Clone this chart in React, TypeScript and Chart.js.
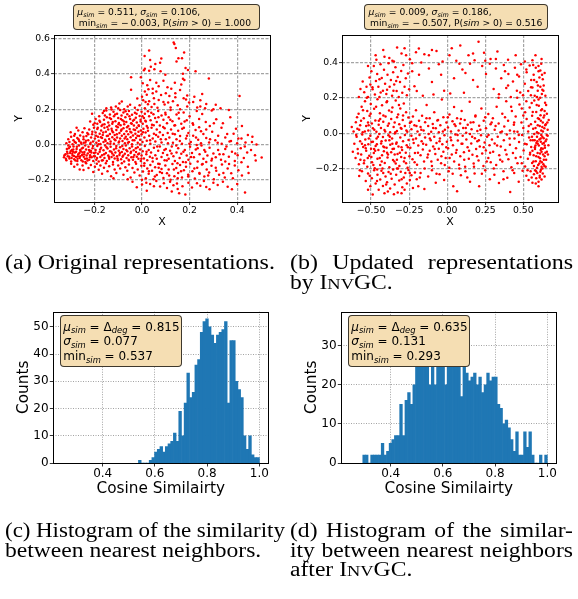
import React, { useEffect, useRef } from "react";
import { Chart, registerables } from "chart.js";
Chart.register(...registerables);

const W = 578;
const H = 599;
const FONT = "'DejaVu Sans', sans-serif";
const SERIF = "'Liberation Serif', 'Times New Roman', serif";

// ---------- (a) original representations : [x, y] ----------
const scatterOriginal: [number, number][] = [
  [0.133,0.576],[0.136,0.568],[0.030,0.531],[0.142,0.545],[0.177,0.520],[0.011,0.500],[0.034,0.478],[0.081,0.486],[0.076,0.462],[0.153,0.488],[0.168,0.488],[0.012,0.428],[0.008,0.420],[0.030,0.417],[0.037,0.440],[0.078,0.414],[0.193,0.422],[0.225,0.414],[0.172,0.400],[0.183,0.432],[0.145,0.470],[0.056,0.455],[0.052,0.425],
  [-0.046,0.380],[-0.046,0.310],[0.172,0.372],[0.178,0.365],[0.281,0.373],[0.090,0.360],[0.034,0.365],[0.003,0.346],[0.045,0.316],[0.027,0.312],[0.060,0.300],[0.107,0.324],[0.123,0.316],[0.160,0.309],[0.253,0.286],[0.410,0.275],[0.220,0.270],[0.175,0.262],[0.185,0.255],[-0.085,0.243],[-0.020,0.260],[0.005,0.250],[0.015,0.240],[0.030,0.245],[0.052,0.230],[0.070,0.252],[0.095,0.226],[0.110,0.238],[0.140,0.268],[0.150,0.222],[0.198,0.238],[0.232,0.210],[0.270,0.230],[0.300,0.200],[0.265,0.205],[0.012,0.205],[0.040,0.212],[-0.010,0.222],[-0.030,0.208],[-0.060,0.215],[-0.100,0.205],[-0.130,0.210],[-0.095,0.232],[0.080,0.280],[0.045,0.290],[0.100,0.290],[0.130,0.245],[0.160,0.200],[0.190,0.215],[0.215,0.240],[0.120,0.210],[0.065,0.208],[0.020,0.282],[0.012,0.300],[0.165,0.340],[0.138,0.350],[0.098,0.395],[0.060,0.350],[0.245,0.215],[0.330,0.205],[0.365,0.195],[-0.005,0.380],[0.022,0.335],
  [-0.218,0.130],[-0.205,0.112],[-0.195,0.145],[-0.188,0.118],[-0.180,0.160],[-0.176,0.128],[-0.170,0.105],[-0.165,0.178],[-0.160,0.140],[-0.158,0.115],[-0.150,0.192],[-0.148,0.155],[-0.142,0.125],[-0.138,0.108],[-0.135,0.170],[-0.130,0.145],[-0.125,0.118],[-0.120,0.185],[-0.118,0.160],[-0.112,0.132],[-0.108,0.104],[-0.105,0.175],[-0.100,0.150],[-0.097,0.122],[-0.092,0.195],[-0.090,0.110],[-0.086,0.165],[-0.082,0.138],[-0.078,0.182],[-0.075,0.115],[-0.070,0.155],[-0.066,0.128],[-0.062,0.172],[-0.058,0.105],[-0.055,0.190],[-0.050,0.145],[-0.046,0.120],[-0.042,0.168],[-0.038,0.135],[-0.034,0.108],[-0.030,0.180],[-0.026,0.152],[-0.022,0.125],[-0.018,0.195],[-0.014,0.110],[-0.010,0.162],[-0.006,0.140],[-0.002,0.185],[0.003,0.118],[0.008,0.150],[0.012,0.175],[0.016,0.130],[0.020,0.105],[0.025,0.188],[0.030,0.160],[0.036,0.138],[0.042,0.112],[0.048,0.172],[0.055,0.150],[0.062,0.128],[0.068,0.190],[0.075,0.108],[0.082,0.165],[0.090,0.140],[0.098,0.180],[0.105,0.120],[0.112,0.155],[0.120,0.195],[0.128,0.132],[0.136,0.108],[0.145,0.170],[0.155,0.148],[0.165,0.118],[0.175,0.182],[0.188,0.138],[0.200,0.160],[0.215,0.112],[0.230,0.190],[0.253,0.173],[0.293,0.192],[0.371,0.154],[0.312,0.143],[0.268,0.128],[0.240,0.145],[0.340,0.120],[0.420,0.105],[0.285,0.105],[-0.210,0.175],[-0.128,0.198],[-0.075,0.200],[0.002,0.160],[-0.160,0.190],
  [-0.318,0.008],[-0.310,0.030],[-0.305,0.015],[-0.298,0.045],[-0.292,0.002],[-0.288,0.025],[-0.282,0.060],[-0.278,0.010],[-0.272,0.038],[-0.268,0.080],[-0.264,0.020],[-0.260,0.052],[-0.255,0.005],[-0.250,0.070],[-0.246,0.030],[-0.242,0.092],[-0.238,0.012],[-0.234,0.048],[-0.230,0.065],[-0.226,0.025],[-0.222,0.085],[-0.218,0.004],[-0.214,0.040],[-0.210,0.058],[-0.206,0.018],[-0.202,0.095],[-0.300,0.070],[-0.275,0.095],[-0.285,0.050],[-0.245,0.010],
  [-0.198,0.035],[-0.195,0.068],[-0.192,0.010],[-0.188,0.088],[-0.185,0.045],[-0.182,0.022],[-0.178,0.062],[-0.175,0.003],[-0.172,0.080],[-0.168,0.038],[-0.165,0.055],[-0.162,0.015],[-0.158,0.095],[-0.155,0.028],[-0.152,0.072],[-0.148,0.048],[-0.145,0.008],[-0.142,0.085],[-0.138,0.032],[-0.135,0.060],[-0.132,0.018],[-0.128,0.090],[-0.125,0.042],[-0.122,0.070],[-0.118,0.005],[-0.115,0.055],[-0.112,0.025],[-0.108,0.082],[-0.105,0.040],[-0.102,0.098],[-0.098,0.012],[-0.095,0.065],[-0.092,0.035],[-0.088,0.078],[-0.085,0.050],[-0.082,0.020],[-0.078,0.092],[-0.075,0.060],[-0.072,0.008],[-0.068,0.045],[-0.065,0.075],[-0.062,0.030],[-0.058,0.058],[-0.055,0.015],[-0.052,0.088],[-0.048,0.042],[-0.045,0.068],[-0.042,0.002],[-0.038,0.052],[-0.035,0.085],[-0.032,0.025],[-0.028,0.062],[-0.025,0.038],[-0.022,0.095],[-0.018,0.010],[-0.015,0.072],[-0.012,0.048],[-0.008,0.028],[-0.005,0.080],[-0.002,0.058],[0.002,0.015],[0.006,0.090],[0.010,0.040],[0.015,0.068],[0.020,0.022],[0.025,0.078],[0.030,0.050],[0.035,0.005],[0.040,0.095],[0.045,0.035],[0.050,0.062],[0.056,0.018],[0.062,0.085],[0.068,0.045],[0.075,0.070],[0.082,0.012],[0.088,0.055],[0.095,0.092],[0.100,0.030],
  [0.108,0.065],[0.115,0.040],[0.122,0.085],[0.130,0.010],[0.138,0.058],[0.145,0.030],[0.152,0.078],[0.160,0.048],[0.168,0.005],[0.176,0.095],[0.185,0.035],[0.195,0.065],[0.205,0.015],[0.215,0.050],[0.225,0.082],[0.236,0.028],[0.248,0.008],[0.258,0.060],[0.270,0.038],[0.282,0.012],[0.295,0.072],[0.308,0.025],[0.320,0.050],[0.335,0.005],[0.350,0.040],[0.368,0.018],[0.385,0.062],[0.400,0.008],[0.418,0.034],[0.435,0.012],[0.464,0.045],[0.481,0.000],[0.445,0.055],[0.395,0.090],[0.240,0.098],
  [-0.328,-0.072],[-0.322,-0.055],[-0.318,-0.088],[-0.315,-0.040],[-0.312,-0.065],[-0.308,-0.020],[-0.305,-0.078],[-0.302,-0.048],[-0.298,-0.095],[-0.295,-0.030],[-0.292,-0.062],[-0.288,-0.010],[-0.285,-0.082],[-0.282,-0.045],[-0.278,-0.070],[-0.275,-0.025],[-0.272,-0.092],[-0.268,-0.055],[-0.265,-0.005],[-0.262,-0.075],[-0.258,-0.038],[-0.255,-0.088],[-0.252,-0.058],[-0.248,-0.018],[-0.245,-0.068],[-0.242,-0.042],[-0.238,-0.098],[-0.235,-0.028],[-0.232,-0.078],[-0.228,-0.050],[-0.225,-0.012],[-0.222,-0.085],[-0.218,-0.060],[-0.215,-0.035],[-0.212,-0.072],[-0.208,-0.020],[-0.205,-0.092],[-0.202,-0.048],[-0.290,-0.040],[-0.260,-0.030],[-0.240,-0.080],[-0.220,-0.040],[-0.270,-0.065],[-0.250,-0.045],[-0.310,-0.005],
  [-0.198,-0.065],[-0.195,-0.030],[-0.192,-0.085],[-0.188,-0.008],[-0.185,-0.052],[-0.182,-0.095],[-0.178,-0.040],[-0.175,-0.070],[-0.172,-0.018],[-0.168,-0.060],[-0.165,-0.088],[-0.162,-0.032],[-0.158,-0.075],[-0.155,-0.005],[-0.152,-0.048],[-0.148,-0.092],[-0.145,-0.022],[-0.142,-0.062],[-0.138,-0.080],[-0.135,-0.038],[-0.132,-0.012],[-0.128,-0.070],[-0.125,-0.050],[-0.122,-0.098],[-0.118,-0.028],[-0.115,-0.078],[-0.112,-0.045],[-0.108,-0.008],[-0.105,-0.065],[-0.102,-0.088],[-0.098,-0.035],[-0.095,-0.058],[-0.092,-0.015],[-0.088,-0.082],[-0.085,-0.042],[-0.082,-0.068],[-0.078,-0.025],[-0.075,-0.095],[-0.072,-0.052],[-0.068,-0.005],[-0.065,-0.075],[-0.062,-0.038],[-0.058,-0.060],[-0.055,-0.090],[-0.052,-0.020],[-0.048,-0.048],[-0.045,-0.072],[-0.042,-0.010],[-0.038,-0.085],[-0.035,-0.032],[-0.032,-0.058],[-0.028,-0.098],[-0.025,-0.042],[-0.022,-0.068],[-0.018,-0.015],[-0.015,-0.080],[-0.012,-0.050],[-0.008,-0.028],[-0.005,-0.092],[-0.002,-0.062],[0.003,-0.038],[0.008,-0.078],[0.012,-0.008],[0.018,-0.055],[0.022,-0.088],[0.028,-0.030],[0.033,-0.068],[0.038,-0.045],[0.045,-0.095],[0.050,-0.018],[0.056,-0.060],[0.062,-0.080],[0.068,-0.035],[0.075,-0.010],[0.082,-0.070],[0.088,-0.048],[0.095,-0.088],[0.100,-0.025],
  [0.106,-0.058],[0.112,-0.080],[0.118,-0.035],[0.125,-0.010],[0.132,-0.065],[0.138,-0.092],[0.145,-0.045],[0.152,-0.020],[0.158,-0.075],[0.165,-0.052],[0.172,-0.098],[0.180,-0.030],[0.188,-0.062],[0.195,-0.085],[0.202,-0.012],[0.210,-0.048],[0.218,-0.072],[0.226,-0.028],[0.234,-0.095],[0.242,-0.055],[0.250,-0.005],[0.258,-0.080],[0.266,-0.040],[0.275,-0.062],[0.284,-0.018],[0.292,-0.090],[0.300,-0.050],[0.310,-0.072],[0.320,-0.030],[0.332,-0.085],[0.342,-0.055],[0.355,-0.010],[0.365,-0.068],[0.378,-0.040],[0.390,-0.092],[0.402,-0.060],[0.415,-0.020],[0.428,-0.075],[0.442,-0.045],[0.458,-0.030],[0.475,-0.060],[0.503,-0.073],[0.350,-0.095],[0.270,-0.098],[0.230,-0.002],
  [-0.298,-0.108],[-0.285,-0.125],[-0.272,-0.112],[-0.262,-0.140],[-0.250,-0.118],[-0.246,-0.143],[-0.235,-0.105],[-0.225,-0.132],[-0.215,-0.115],[-0.205,-0.155],[-0.198,-0.125],[-0.190,-0.108],[-0.182,-0.142],[-0.175,-0.118],[-0.168,-0.165],[-0.160,-0.130],[-0.152,-0.105],[-0.145,-0.150],[-0.138,-0.122],[-0.130,-0.178],[-0.122,-0.112],[-0.115,-0.140],[-0.108,-0.160],[-0.100,-0.118],[-0.092,-0.135],[-0.085,-0.105],[-0.078,-0.170],[-0.070,-0.128],[-0.062,-0.148],[-0.055,-0.112],[-0.048,-0.185],[-0.040,-0.132],[-0.032,-0.158],[-0.025,-0.108],[-0.018,-0.140],[-0.010,-0.175],[-0.003,-0.120],[0.004,-0.152],[0.010,-0.105],[0.016,-0.190],[0.022,-0.135],[0.028,-0.165],[0.035,-0.115],[0.042,-0.148],[0.048,-0.195],[0.055,-0.128],[0.062,-0.172],[0.068,-0.108],[0.075,-0.155],[0.082,-0.138],[0.090,-0.188],[0.098,-0.118],[0.105,-0.162],[0.112,-0.140],[0.120,-0.198],[0.128,-0.110],[0.136,-0.178],[0.144,-0.132],[0.152,-0.160],[0.160,-0.115],[0.168,-0.185],[0.176,-0.145],[0.185,-0.125],[0.194,-0.170],[0.203,-0.108],[0.212,-0.150],[0.222,-0.192],[0.232,-0.130],[0.242,-0.165],[0.252,-0.112],[0.262,-0.180],[0.272,-0.140],[0.282,-0.158],[0.292,-0.120],[0.302,-0.195],[0.312,-0.148],[0.324,-0.170],[0.336,-0.112],[0.348,-0.185],[0.360,-0.135],[0.375,-0.162],[0.390,-0.118],[0.405,-0.145],[0.420,-0.175],[0.445,-0.125],[-0.120,-0.190],[-0.060,-0.195],[0.000,-0.198],[0.070,-0.130],[0.150,-0.190],
  [-0.040,-0.210],[-0.022,-0.241],[0.000,-0.225],[0.018,-0.215],[0.034,-0.222],[0.050,-0.235],[0.060,-0.205],[0.076,-0.237],[0.092,-0.218],[0.105,-0.245],[0.118,-0.210],[0.132,-0.230],[0.147,-0.220],[0.150,-0.250],[0.156,-0.275],[0.170,-0.235],[0.182,-0.281],[0.195,-0.215],[0.210,-0.242],[0.231,-0.218],[0.245,-0.232],[0.260,-0.205],[0.270,-0.240],[0.284,-0.252],[0.300,-0.215],[0.318,-0.228],[0.340,-0.210],[0.360,-0.238],[0.378,-0.252],[0.400,-0.222],[0.433,-0.271],[0.020,-0.260],[0.125,-0.265],
  [-0.326,-0.060],[-0.320,-0.080],[-0.316,-0.025],[-0.313,-0.050],[-0.306,-0.068],[-0.303,-0.012],[-0.300,-0.038],[-0.296,-0.075],[-0.293,-0.052],[-0.289,-0.028],[-0.286,-0.064],[-0.283,0.015],[-0.280,-0.090],[-0.277,-0.040],[-0.274,-0.012],[-0.271,-0.080],[-0.267,0.030],[-0.263,-0.048],[-0.260,-0.065],[-0.257,0.012],[-0.253,-0.022],[-0.249,-0.095],[-0.246,0.045],[-0.243,-0.055],[-0.239,-0.005],[-0.236,0.022],[-0.233,-0.062],[-0.229,-0.090],[-0.226,0.058],[-0.223,-0.030],[-0.219,-0.072],[-0.216,0.010],[-0.213,-0.045],[-0.209,0.072],[-0.206,-0.008],[-0.203,-0.065],
  [-0.199,0.120],[-0.196,-0.045],[-0.193,0.050],[-0.189,-0.075],[-0.186,0.095],[-0.183,0.002],[-0.179,0.135],[-0.176,-0.028],[-0.173,0.042],[-0.169,-0.090],[-0.166,0.112],[-0.163,0.068],[-0.159,-0.055],[-0.156,0.165],[-0.153,0.020],[-0.149,-0.015],[-0.146,0.100],[-0.143,0.050],[-0.139,-0.070],[-0.136,0.150],[-0.133,0.005],[-0.129,-0.040],[-0.126,0.078],[-0.123,0.128],[-0.119,-0.060],[-0.116,0.030],[-0.113,0.170],[-0.109,-0.020],[-0.106,0.058],[-0.103,-0.078],[-0.099,0.115],[-0.096,0.018],[-0.093,-0.048],[-0.089,0.145],[-0.086,0.085],[-0.083,-0.008],[-0.079,-0.062],[-0.076,0.130],[-0.073,0.035],[-0.069,0.188],[-0.066,-0.030],[-0.063,0.098],[-0.059,0.010],[-0.056,-0.085],[-0.053,0.160],[-0.049,0.072],[-0.046,-0.040],[-0.043,0.118],[-0.039,0.025],[-0.036,-0.070],[-0.033,0.140],[-0.029,0.082],[-0.026,-0.020],[-0.023,0.175],[-0.019,0.050],[-0.016,-0.055],[-0.013,0.105],[-0.009,0.000],[-0.006,0.130],[-0.003,-0.080],
  [0.004,0.070],[0.009,-0.120],[0.014,0.135],[0.019,-0.040],[0.024,0.095],[0.029,-0.150],[0.034,0.025],[0.039,0.180],[0.044,-0.075],[0.049,0.110],[0.054,-0.180],[0.059,0.055],[0.064,-0.010],[0.069,0.155],[0.074,-0.110],[0.079,0.030],[0.084,-0.160],[0.089,0.100],[0.094,-0.030],[0.099,0.170],[0.104,-0.090],[0.109,0.008],[0.114,-0.175],[0.119,0.140],[0.124,-0.050],[0.129,0.062],[0.134,-0.140],[0.139,0.110],[0.144,-0.005],[0.149,-0.105],[0.154,0.180],[0.159,0.020],[0.164,-0.150],[0.169,0.090],[0.174,-0.040],[0.179,0.130],[0.184,-0.100],[0.189,0.050],[0.194,-0.180],[0.199,0.005],[0.206,-0.070],[0.213,0.120],[0.220,-0.135],[0.227,0.040],[0.234,-0.020],[0.241,-0.160],[0.248,0.075],[0.255,-0.110],
  [0.262,-0.030],[0.270,0.085],[0.278,-0.175],[0.286,0.030],[0.294,-0.080],[0.302,0.120],[0.310,-0.130],[0.318,0.010],[0.326,-0.055],[0.334,0.095],[0.342,-0.160],[0.350,-0.025],[0.358,0.060],[0.366,-0.110],[0.374,0.020],[0.382,-0.190],[0.392,-0.050],[0.405,0.035],[0.418,-0.100],[0.432,-0.010],[0.448,-0.160],[0.462,0.015],[0.478,-0.090],
  [-0.150,0.205],[-0.110,0.215],[-0.050,0.225],[0.000,0.270],[0.050,0.262],[0.090,0.240],[0.140,0.290],[0.190,0.278],[0.245,0.250],[0.310,0.225],[0.070,0.330],[0.115,0.275],[0.025,0.228],
];

// ---------- (b) updated representations : [x, y] ----------
const scatterUpdated: [number, number][] = [
  [-0.329,0.485],[-0.186,0.479],[0.086,0.496],[0.206,0.517],[-0.070,0.464],[-0.412,0.432],[-0.300,0.450],[-0.270,0.440],[-0.205,0.458],[-0.150,0.446],[-0.465,0.415],[-0.380,0.425],[-0.120,0.440],[-0.030,0.405],[0.015,0.440],[0.060,0.410],[0.140,0.440],[0.242,0.455],[0.330,0.462],[0.285,0.420],[0.400,0.415],[0.560,0.412],[0.510,0.405],[-0.245,0.418],[-0.350,0.405],[0.180,0.412],
  [-0.555,0.292],[-0.545,0.232],[-0.530,0.262],[-0.520,0.205],[-0.510,0.315],[-0.498,0.350],[-0.490,0.248],[-0.482,0.380],[-0.475,0.218],[-0.468,0.295],[-0.460,0.335],[-0.452,0.262],[-0.445,0.205],[-0.438,0.390],[-0.430,0.312],[-0.422,0.240],[-0.415,0.358],[-0.408,0.280],[-0.400,0.222],[-0.392,0.330],[-0.385,0.395],[-0.378,0.262],[-0.370,0.300],[-0.362,0.212],[-0.355,0.345],[-0.348,0.275],[-0.340,0.372],[-0.332,0.238],[-0.325,0.318],[-0.318,0.205],[-0.310,0.290],[-0.302,0.352],[-0.295,0.228],[-0.288,0.385],[-0.280,0.262],[-0.272,0.310],[-0.265,0.215],[-0.258,0.338],[-0.250,0.248],[-0.580,0.205],[-0.570,0.250],[-0.505,0.275],[-0.445,0.305],[-0.395,0.245],[-0.335,0.295],
  [-0.230,0.395],[-0.215,0.265],[-0.200,0.238],[-0.185,0.330],[-0.160,0.212],[-0.120,0.365],[-0.090,0.218],[-0.055,0.390],[-0.020,0.240],[0.020,0.225],[0.045,0.310],[0.080,0.392],[0.110,0.228],[0.150,0.392],[0.170,0.300],[0.200,0.262],[0.230,0.380],[0.255,0.335],[0.280,0.392],[0.120,0.340],[-0.100,0.290],
  [0.305,0.250],[0.320,0.365],[0.340,0.220],[0.355,0.310],[0.372,0.385],[0.388,0.255],[0.402,0.335],[0.418,0.205],[0.432,0.292],[0.445,0.370],[0.458,0.240],[0.472,0.320],[0.485,0.390],[0.498,0.215],[0.510,0.280],[0.522,0.345],[0.532,0.238],[0.542,0.382],[0.552,0.300],[0.560,0.258],[0.568,0.330],[0.575,0.212],[0.582,0.370],[0.588,0.290],[0.595,0.240],[0.600,0.350],[0.606,0.315],[0.612,0.262],[0.618,0.392],[0.622,0.222],[0.628,0.305],[0.634,0.270],[0.640,0.340],[0.645,0.212],[0.590,0.205],[0.565,0.385],[0.612,0.355],[0.625,0.245],[0.550,0.215],[0.460,0.200],
  [-0.627,0.035],[-0.615,0.010],[-0.600,0.062],[-0.590,0.025],[-0.582,0.110],[-0.572,0.045],[-0.562,0.150],[-0.555,0.005],[-0.548,0.085],[-0.540,0.180],[-0.532,0.040],[-0.525,0.125],[-0.518,0.015],[-0.510,0.098],[-0.502,0.165],[-0.495,0.055],[-0.488,0.028],[-0.480,0.138],[-0.472,0.072],[-0.465,0.008],[-0.458,0.192],[-0.450,0.048],[-0.442,0.112],[-0.435,0.030],[-0.428,0.158],[-0.420,0.065],[-0.412,0.018],[-0.405,0.095],[-0.398,0.175],[-0.390,0.042],[-0.382,0.128],[-0.375,0.005],[-0.368,0.080],[-0.360,0.145],[-0.352,0.035],[-0.345,0.060],[-0.338,0.185],[-0.330,0.012],[-0.322,0.105],[-0.315,0.050],[-0.308,0.140],[-0.300,0.025],[-0.292,0.075],[-0.285,0.168],[-0.278,0.040],[-0.270,0.118],[-0.262,0.008],[-0.255,0.088],[-0.520,0.060],[-0.440,0.080],
  [-0.245,0.058],[-0.235,0.022],[-0.225,0.095],[-0.215,0.045],[-0.205,0.130],[-0.195,0.010],[-0.185,0.070],[-0.175,0.035],[-0.165,0.098],[-0.155,0.015],[-0.145,0.062],[-0.135,0.160],[-0.125,0.040],[-0.115,0.085],[-0.105,0.008],[-0.095,0.052],[-0.085,0.118],[-0.075,0.028],[-0.065,0.072],[-0.055,0.005],[-0.045,0.045],[-0.035,0.190],[-0.025,0.090],[-0.015,0.020],[-0.005,0.060],[0.005,0.032],[0.015,0.105],[0.025,0.010],[0.035,0.068],[0.045,0.148],[0.055,0.040],[0.065,0.085],[0.075,0.015],[0.085,0.055],[0.095,0.125],[0.105,0.030],[0.115,0.075],[0.125,0.002],[0.135,0.048],[0.148,0.178],[0.160,0.022],[0.172,0.062],[0.185,0.095],[0.198,0.012],[0.210,0.042],[0.225,0.140],[0.240,0.070],[0.255,0.028],[0.270,0.108],[0.285,0.050],
  [0.300,0.085],[0.312,0.020],[0.325,0.150],[0.338,0.055],[0.350,0.005],[0.362,0.110],[0.375,0.038],[0.388,0.180],[0.400,0.070],[0.412,0.015],[0.425,0.125],[0.438,0.048],[0.450,0.095],[0.462,0.008],[0.475,0.162],[0.488,0.060],[0.500,0.030],[0.512,0.118],[0.522,0.080],[0.532,0.010],[0.542,0.145],[0.550,0.050],[0.558,0.098],[0.565,0.025],[0.572,0.185],[0.578,0.065],[0.585,0.120],[0.590,0.005],[0.596,0.085],[0.602,0.155],[0.608,0.040],[0.613,0.102],[0.618,0.015],[0.623,0.135],[0.628,0.060],[0.633,0.088],[0.638,0.028],[0.643,0.172],[0.648,0.050],[0.655,0.110],[0.660,0.020],[0.667,0.075],[0.600,0.190],[0.615,0.070],[0.625,0.035],[0.595,0.045],[0.640,0.125],[0.555,0.170],[0.490,0.140],[0.440,0.010],
  [-0.620,-0.105],[-0.610,-0.060],[-0.602,-0.140],[-0.595,-0.020],[-0.588,-0.090],[-0.580,-0.175],[-0.572,-0.045],[-0.565,-0.120],[-0.558,-0.008],[-0.552,-0.078],[-0.545,-0.155],[-0.538,-0.035],[-0.532,-0.100],[-0.525,-0.190],[-0.518,-0.062],[-0.512,-0.128],[-0.505,-0.015],[-0.500,-0.088],[-0.494,-0.165],[-0.488,-0.048],[-0.482,-0.112],[-0.476,-0.198],[-0.470,-0.072],[-0.464,-0.030],[-0.458,-0.145],[-0.452,-0.095],[-0.446,-0.005],[-0.440,-0.180],[-0.434,-0.058],[-0.428,-0.125],[-0.422,-0.022],[-0.416,-0.102],[-0.410,-0.168],[-0.404,-0.042],[-0.398,-0.082],[-0.392,-0.138],[-0.386,-0.012],[-0.380,-0.192],[-0.374,-0.065],[-0.368,-0.108],[-0.362,-0.030],[-0.356,-0.152],[-0.350,-0.088],[-0.344,-0.002],[-0.338,-0.172],[-0.332,-0.052],[-0.326,-0.118],[-0.320,-0.075],[-0.314,-0.185],[-0.308,-0.025],[-0.302,-0.135],[-0.296,-0.095],[-0.290,-0.045],[-0.284,-0.160],[-0.278,-0.010],[-0.272,-0.110],[-0.266,-0.068],[-0.260,-0.195],[-0.254,-0.038],[-0.248,-0.130],[-0.498,-0.135],[-0.462,-0.062],[-0.430,-0.160],[-0.395,-0.110],[-0.360,-0.060],[-0.330,-0.150],[-0.300,-0.080],[-0.270,-0.170],[-0.540,-0.068],[-0.570,-0.150],[-0.515,-0.030],[-0.480,-0.090],[-0.345,-0.120],[-0.420,-0.075],[-0.380,-0.040],
  [-0.242,-0.082],[-0.235,-0.015],[-0.228,-0.148],[-0.220,-0.055],[-0.212,-0.112],[-0.205,-0.030],[-0.198,-0.178],[-0.190,-0.070],[-0.182,-0.010],[-0.175,-0.125],[-0.168,-0.045],[-0.160,-0.092],[-0.152,-0.160],[-0.145,-0.025],[-0.138,-0.065],[-0.130,-0.138],[-0.122,-0.005],[-0.115,-0.100],[-0.108,-0.040],[-0.100,-0.185],[-0.092,-0.075],[-0.085,-0.020],[-0.078,-0.118],[-0.070,-0.055],[-0.062,-0.150],[-0.055,-0.088],[-0.048,-0.030],[-0.040,-0.170],[-0.032,-0.062],[-0.025,-0.105],[-0.018,-0.012],[-0.010,-0.140],[-0.002,-0.048],[0.006,-0.085],[0.014,-0.195],[0.022,-0.025],[0.030,-0.120],[0.038,-0.068],[0.046,-0.160],[0.054,-0.008],[0.062,-0.095],[0.070,-0.042],[0.078,-0.178],[0.086,-0.130],[0.094,-0.060],[0.102,-0.015],[0.110,-0.108],[0.118,-0.190],[0.126,-0.035],[0.134,-0.080],[0.142,-0.145],[0.150,-0.005],[0.158,-0.058],[0.166,-0.122],[0.174,-0.172],[0.182,-0.028],[0.190,-0.090],[0.198,-0.045],[0.206,-0.155],[0.214,-0.075],[0.222,-0.012],[0.230,-0.115],[0.238,-0.185],[0.246,-0.052],[0.254,-0.098],[0.262,-0.020],[0.270,-0.140],[0.278,-0.068],[0.286,-0.165],[0.294,-0.035],
  [0.302,-0.105],[0.312,-0.058],[0.322,-0.180],[0.332,-0.020],[0.342,-0.125],[0.352,-0.075],[0.362,-0.160],[0.372,-0.040],[0.382,-0.095],[0.392,-0.008],[0.402,-0.148],[0.412,-0.065],[0.422,-0.192],[0.432,-0.112],[0.442,-0.030],[0.452,-0.085],[0.462,-0.170],[0.472,-0.050],[0.482,-0.135],[0.492,-0.010],[0.502,-0.098],[0.512,-0.188],[0.522,-0.062],[0.530,-0.145],[0.538,-0.025],[0.545,-0.110],[0.552,-0.078],[0.558,-0.168],[0.563,-0.040],[0.568,-0.125],[0.572,-0.005],[0.577,-0.090],[0.582,-0.158],[0.586,-0.055],[0.590,-0.020],[0.594,-0.112],[0.598,-0.180],[0.602,-0.070],[0.606,-0.035],[0.610,-0.142],[0.614,-0.095],[0.618,-0.010],[0.622,-0.165],[0.626,-0.060],[0.630,-0.120],[0.634,-0.028],[0.638,-0.185],[0.642,-0.082],[0.646,-0.045],[0.650,-0.150],[0.655,-0.105],[0.660,-0.015],[0.665,-0.068],[0.590,-0.195],[0.605,-0.172],[0.620,-0.190],[0.615,-0.048],[0.628,-0.088],[0.640,-0.130],[0.600,-0.000],[0.585,-0.130],[0.575,-0.040],[0.560,-0.100],[0.612,-0.158],[0.632,-0.175],[0.548,-0.040],[0.595,-0.060],[0.625,-0.020],[0.645,-0.110],[0.610,-0.115],[0.580,-0.070],[0.570,-0.185],[0.635,-0.055],[0.652,-0.035],[0.618,-0.085],
  [-0.578,-0.242],[-0.560,-0.215],[-0.535,-0.270],[-0.520,-0.228],[-0.505,-0.300],[-0.495,-0.255],[-0.489,-0.347],[-0.480,-0.210],[-0.470,-0.285],[-0.458,-0.235],[-0.450,-0.320],[-0.440,-0.262],[-0.432,-0.212],[-0.422,-0.298],[-0.412,-0.340],[-0.405,-0.245],[-0.395,-0.278],[-0.385,-0.220],[-0.375,-0.312],[-0.365,-0.258],[-0.355,-0.205],[-0.345,-0.290],[-0.335,-0.235],[-0.325,-0.335],[-0.315,-0.268],[-0.305,-0.218],[-0.295,-0.305],[-0.285,-0.250],[-0.275,-0.225],[-0.265,-0.285],[-0.255,-0.208],[-0.245,-0.265],[-0.235,-0.238],[-0.225,-0.310],[-0.212,-0.222],[-0.200,-0.260],[-0.190,-0.300],[-0.460,-0.205],[-0.390,-0.330],[-0.350,-0.345],[-0.300,-0.340],[-0.420,-0.225],[-0.520,-0.320],[-0.280,-0.320],[-0.330,-0.200],
  [-0.175,-0.225],[-0.150,-0.315],[-0.125,-0.245],[-0.100,-0.210],[-0.075,-0.280],[-0.050,-0.232],[-0.020,-0.265],[0.010,-0.215],[0.040,-0.300],[0.065,-0.328],[0.090,-0.238],[0.120,-0.215],[0.150,-0.275],[0.180,-0.228],[0.210,-0.300],[0.250,-0.210],[0.280,-0.260],[0.310,-0.235],[0.340,-0.282],[0.370,-0.215],[0.395,-0.252],[0.414,-0.332],[0.440,-0.225],[0.470,-0.275],[0.495,-0.212],
  [0.520,-0.240],[0.535,-0.265],[0.548,-0.215],[0.560,-0.280],[0.570,-0.232],[0.578,-0.210],[0.585,-0.255],[0.592,-0.225],[0.600,-0.275],[0.608,-0.240],[0.615,-0.208],[0.620,-0.262],[0.628,-0.228],[0.600,-0.300],[0.582,-0.285],[0.555,-0.250],[0.612,-0.218],[0.640,-0.245],
  [-0.598,-0.010],[-0.592,0.090],[-0.586,-0.115],[-0.578,0.020],[-0.574,-0.210],[-0.566,0.070],[-0.560,-0.060],[-0.553,0.130],[-0.547,-0.170],[-0.541,0.010],[-0.535,-0.085],[-0.528,0.200],[-0.522,-0.140],[-0.516,0.045],[-0.509,-0.240],[-0.503,0.110],[-0.497,-0.050],[-0.491,0.260],[-0.485,-0.180],[-0.479,0.020],[-0.473,-0.100],[-0.467,0.150],[-0.461,-0.270],[-0.455,-0.020],[-0.449,0.070],[-0.443,-0.140],[-0.437,0.230],[-0.431,-0.045],[-0.425,-0.200],[-0.419,0.100],[-0.413,-0.080],[-0.407,0.010],[-0.401,-0.290],[-0.395,0.180],[-0.389,-0.120],[-0.383,0.055],[-0.377,-0.020],[-0.371,-0.230],[-0.365,0.120],[-0.359,-0.090],[-0.353,0.240],[-0.347,-0.160],[-0.341,0.005],[-0.335,-0.060],[-0.329,0.090],[-0.323,-0.200],[-0.317,0.160],[-0.311,-0.110],[-0.305,0.030],[-0.299,-0.260],
  [-0.290,0.100],[-0.280,-0.140],[-0.268,0.015],[-0.258,-0.080],[-0.246,-0.225],[-0.236,0.065],[-0.224,-0.035],[-0.214,-0.165],[-0.202,0.040],[-0.192,-0.110],[-0.180,-0.250],[-0.170,0.020],[-0.158,-0.060],[-0.148,-0.200],[-0.136,0.085],[-0.126,-0.120],[-0.114,-0.030],[-0.104,-0.160],[-0.092,0.030],[-0.082,-0.090],[-0.070,-0.230],[-0.060,0.075],[-0.050,-0.045],[-0.038,-0.130],[-0.028,0.010],[-0.016,-0.180],[-0.006,-0.080],[0.004,0.090],[0.016,-0.140],[0.026,-0.040],[0.036,-0.230],[0.048,0.050],[0.058,-0.110],[0.068,-0.010],[0.080,-0.200],[0.090,0.080],[0.100,-0.060],[0.112,-0.150],[0.122,0.030],[0.132,-0.250],[0.144,-0.100],[0.154,0.060],[0.164,-0.020],[0.176,-0.190],[0.186,0.100],[0.196,-0.130],[0.208,-0.040],[0.218,0.020],[0.228,-0.230],[0.240,-0.080],[0.250,0.090],[0.260,-0.160],[0.272,-0.010],[0.282,-0.110],[0.292,0.060],
  [0.306,-0.200],[0.318,0.040],[0.328,-0.070],[0.338,0.200],[0.348,-0.150],[0.360,0.010],[0.370,-0.260],[0.380,0.090],[0.390,-0.120],[0.400,0.270],[0.410,-0.030],[0.420,0.150],[0.430,-0.210],[0.440,0.060],[0.450,-0.140],[0.460,0.330],[0.470,-0.010],[0.480,0.230],[0.490,-0.170],[0.500,0.100],[0.510,-0.060],[0.520,0.180],[0.528,-0.210],[0.536,0.040],[0.544,-0.120],[0.551,0.260],[0.557,-0.020],[0.562,0.120],[0.567,-0.160],[0.571,0.300],[0.576,-0.080],[0.580,0.030],[0.584,-0.215],[0.588,0.160],[0.592,-0.045],[0.596,0.270],[0.600,-0.135],[0.604,0.080],[0.608,-0.250],[0.611,0.200],[0.614,-0.030],[0.617,0.130],[0.620,-0.105],[0.623,0.330],[0.626,-0.200],[0.629,0.010],[0.632,0.240],[0.635,-0.150],[0.638,0.100],[0.641,-0.070],[0.644,0.045],[0.647,-0.190],[0.650,0.160],[0.654,-0.010],[0.658,0.060],[0.662,-0.120],
  [-0.520,0.380],[-0.470,0.440],[-0.420,0.470],[-0.360,0.410],[-0.280,0.480],[-0.230,0.350],[-0.170,0.400],[-0.100,0.470],[-0.040,0.330],[0.030,0.480],[0.100,0.360],[0.170,0.450],[0.250,0.410],[0.320,0.420],[0.380,0.350],[0.450,0.440],[0.520,0.360],[0.580,0.440],[0.620,0.420],[0.600,0.380],
];

// ---------- (c) histogram of nearest-neighbour similarity ----------
const histOrigBins = [
  0.5421,0.5524,0.5627,0.5730,0.5833,0.5936,0.6039,0.6142,0.6245,0.6348,0.6451,0.6554,0.6657,0.6760,0.6863,
  0.6966,0.7069,0.7172,0.7275,0.7378,0.7481,0.7584,0.7687,0.7790,0.7893,0.7996,0.8099,0.8202,0.8305,0.8408,
  0.8511,0.8614,0.8717,0.8820,0.8923,0.9026,0.9129,0.9232,0.9335,0.9438,0.9541,0.9644,0.9747,0.9850,0.9953,
];
const histOrigCounts = [
  1,0,0,0,1,2,4,5,6,4,6,7,8,11,8,
  19,10,22,33,24,26,36,38,48,52,53,50,47,44,47,
  48,49,52,22,45,45,30,27,24,10,5,10,3,2,2,
];

// ---------- (d) histogram after InvGC ----------
const histInvBins = [
  0.2981,0.3082,0.3183,0.3284,0.3385,0.3486,0.3587,0.3688,0.3789,0.3890,0.3991,0.4092,0.4193,0.4294,0.4395,
  0.4496,0.4597,0.4698,0.4799,0.4900,0.5001,0.5102,0.5203,0.5304,0.5405,0.5506,0.5607,0.5708,0.5809,0.5910,
  0.6011,0.6112,0.6213,0.6314,0.6415,0.6516,0.6617,0.6718,0.6819,0.6920,0.7021,0.7122,0.7223,0.7324,0.7425,
  0.7526,0.7627,0.7728,0.7829,0.7930,0.8031,0.8132,0.8233,0.8334,0.8435,0.8536,0.8637,0.8738,0.8839,0.8940,
  0.9041,0.9142,0.9243,0.9344,0.9445,0.9546,0.9647,0.9748,0.9849,0.9950,
];
const histInvCounts = [
  2,2,0,2,2,2,2,5,2,3,5,6,7,7,15,
  7,16,18,15,20,25,26,29,31,27,20,33,20,30,35,
  37,20,32,28,34,30,26,17,25,23,21,22,23,20,22,
  18,20,23,21,22,22,15,14,10,11,9,6,3,8,2,
  2,8,4,8,2,0,0,2,0,2,
];

// ---------- ticks ----------
const ticksOrigX = [-0.2, 0, 0.2, 0.4];
const labelsOrigX = ["\u22120.2", "0.0", "0.2", "0.4"];
const ticksOrigY = [-0.2, 0, 0.2, 0.4, 0.6];
const labelsOrigY = ["\u22120.2", "0.0", "0.2", "0.4", "0.6"];
const ticksUpdX = [-0.5, -0.25, 0, 0.25, 0.5];
const labelsUpdX = ["\u22120.50", "\u22120.25", "0.00", "0.25", "0.50"];
const ticksUpdY = [-0.2, 0, 0.2, 0.4];
const labelsUpdY = ["\u22120.2", "0.0", "0.2", "0.4"];
const ticksHistX = [0.4, 0.6, 0.8, 1.0];
const labelsHistX = ["0.4", "0.6", "0.8", "1.0"];
const ticksOrigHistY = [0, 10, 20, 30, 40, 50];
const ticksInvHistY = [0, 10, 20, 30];

const framePlugin = {
  id: "frame",
  afterDatasetsDraw(chart: any) {
    const { ctx, chartArea: a } = chart;
    ctx.save();
    ctx.strokeStyle = "#000";
    ctx.lineWidth = 1;
    ctx.strokeRect(Math.round(a.left) + 0.5, Math.round(a.top) + 0.5, Math.round(a.right - a.left), Math.round(a.bottom - a.top));
    ctx.restore();
  },
};

function axis(p: any) {
  return {
    type: "linear",
    min: p.min,
    max: p.max,
    offset: false,
    afterBuildTicks: (s: any) => {
      s.ticks = p.ticks.map((v: number) => ({ value: v }));
    },
    afterFit: (s: any) => {
      if (p.horizontal) s.height = p.size;
      else s.width = p.size;
    },
    ticks: {
      autoSkip: false,
      maxRotation: 0,
      minRotation: 0,
      padding: p.tickPad,
      color: "#000",
      font: { family: FONT, size: p.fontSize },
      callback: (_v: any, i: number) => p.labels[i],
    },
    grid: {
      offset: false,
      color: p.gridColor,
      lineWidth: p.gridWidth,
      drawTicks: true,
      tickLength: p.tickLength,
      tickColor: "#000",
      tickWidth: 0.8,
    },
    border: { display: false, dash: p.gridDash },
    title: {
      display: true,
      text: p.title,
      color: "#000",
      font: { family: FONT, size: p.titleSize },
      padding: p.horizontal ? { top: 0, bottom: p.titlePad } : { top: p.titlePad, bottom: 0 },
    },
  };
}

const SC_GRID = "rgba(90,90,90,0.55)";
const H_GRID = "rgba(110,110,110,0.8)";

function scatterConfig(points: [number, number][], area: any, xs: any, ys: any) {
  return {
    type: "scatter",
    data: {
      datasets: [
        {
          data: points.map(([x, y]) => ({ x, y })),
          backgroundColor: "#ff0000",
          borderWidth: 0,
          pointRadius: 1.25,
          pointHoverRadius: 1.25,
        },
      ],
    },
    options: {
      responsive: false,
      animation: false,
      events: [],
      layout: { padding: { left: area.padLeft, top: area.top, right: W - area.right, bottom: H - area.bottom - 33 } },
      plugins: { legend: { display: false }, tooltip: { enabled: false } },
      scales: {
        x: axis({ ...xs, horizontal: true, size: 33, tickPad: 0, tickLength: 3, fontSize: 9.3, title: "X", titleSize: 11, titlePad: 6.6, gridColor: SC_GRID, gridWidth: 1.2, gridDash: [3, 1.5] }),
        y: axis({ ...ys, horizontal: false, size: area.left - area.padLeft, tickPad: 1, tickLength: 3, fontSize: 9.3, title: "Y", titleSize: 11, titlePad: 12.9, gridColor: SC_GRID, gridWidth: 1.2, gridDash: [3, 1.5] }),
      },
    },
    plugins: [framePlugin],
  };
}

function histConfig(bins: number[], counts: number[], area: any, ymax: number, yticks: number[]) {
  return {
    type: "bar",
    data: {
      datasets: [
        {
          data: bins.map((x, i) => ({ x, y: counts[i] })),
          backgroundColor: "#1f77b4",
          borderWidth: 0,
          barPercentage: 1,
          categoryPercentage: 1,
        },
      ],
    },
    options: {
      responsive: false,
      animation: false,
      events: [],
      layout: { padding: { left: area.padLeft, top: area.top, right: W - area.right, bottom: H - area.bottom - 36 } },
      plugins: { legend: { display: false }, tooltip: { enabled: false } },
      scales: {
        x: axis({ min: 0.2107, max: 1.0345, ticks: ticksHistX, labels: labelsHistX, horizontal: true, size: 36, tickPad: 0, tickLength: 3.5, fontSize: 12, title: "Cosine Similairty", titleSize: 15.3, titlePad: 1, gridColor: H_GRID, gridWidth: 0.8, gridDash: [1, 1.5] }),
        y: axis({ min: 0, max: ymax, ticks: yticks, labels: yticks.map(String), horizontal: false, size: area.left - area.padLeft, tickPad: 1.2, tickLength: 3.5, fontSize: 12, title: "Counts", titleSize: 15.3, titlePad: 14.8, gridColor: H_GRID, gridWidth: 0.8, gridDash: [1, 1.5] }),
      },
    },
    plugins: [framePlugin],
  };
}

const I = ({ children }: any) => <span style={{ fontStyle: "italic" }}>{children}</span>;
const Sub = ({ children }: any) => (
  <span style={{ fontStyle: "italic", fontSize: "0.7em", position: "relative", top: "0.32em" }}>{children}</span>
);

const boxBase: React.CSSProperties = {
  position: "absolute",
  boxSizing: "border-box",
  background: "#f5deb3",
  border: "1px solid rgba(0,0,0,0.75)",
  borderRadius: 4,
  fontFamily: FONT,
  color: "#000",
  whiteSpace: "nowrap",
};

const capBase: React.CSSProperties = {
  position: "absolute",
  fontFamily: SERIF,
  fontSize: 20,
  lineHeight: "20px",
  height: 20,
  whiteSpace: "nowrap",
  transformOrigin: "0 50%",
  color: "#000",
};

const InvGC = () => (
  <span>
    I<span style={{ fontSize: "0.78em" }}>NV</span>GC
  </span>
);

function Line({ x, cy, s, children }: any) {
  return <div style={{ ...capBase, left: x, top: cy - 10, transform: `scaleX(${s})` }}>{children}</div>;
}
function JLine({ x, cy, w, s, text }: any) {
  return (
    <div style={{ ...capBase, left: x, top: cy - 10, width: w / s, transform: `scaleX(${s})`, display: "flex", justifyContent: "space-between" }}>
      {text.split(" ").map((t: string, i: number) => (
        <span key={i}>{t}</span>
      ))}
    </div>
  );
}

export default function App() {
  const r1 = useRef<HTMLCanvasElement>(null);
  const r2 = useRef<HTMLCanvasElement>(null);
  const r3 = useRef<HTMLCanvasElement>(null);
  const r4 = useRef<HTMLCanvasElement>(null);

  useEffect(() => {
    const charts: Chart[] = [];
    charts.push(
      new Chart(
        r1.current as any,
        scatterConfig(
          scatterOriginal,
          { padLeft: 0, left: 54, right: 270, top: 35, bottom: 202 },
          { min: -0.37, max: 0.538, ticks: ticksOrigX, labels: labelsOrigX },
          { min: -0.324, max: 0.619, ticks: ticksOrigY, labels: labelsOrigY }
        ) as any
      )
    );
    charts.push(
      new Chart(
        r2.current as any,
        scatterConfig(
          scatterUpdated,
          { padLeft: 288, left: 342, right: 558, top: 35, bottom: 202 },
          { min: -0.691, max: 0.728, ticks: ticksUpdX, labels: labelsUpdX },
          { min: -0.389, max: 0.555, ticks: ticksUpdY, labels: labelsUpdY }
        ) as any
      )
    );
    charts.push(
      new Chart(
        r3.current as any,
        histConfig(histOrigBins, histOrigCounts, { padLeft: 0, left: 53.3, right: 268.3, top: 311.7, bottom: 463 }, 55.6, ticksOrigHistY) as any
      )
    );
    charts.push(
      new Chart(
        r4.current as any,
        histConfig(histInvBins, histInvCounts, { padLeft: 288, left: 341.3, right: 556.3, top: 311.7, bottom: 463 }, 38.7, ticksInvHistY) as any
      )
    );
    return () => charts.forEach((c) => c.destroy());
  }, []);

  const cv: React.CSSProperties = { position: "absolute", left: 0, top: 0 };

  return (
    <div style={{ position: "fixed", left: 0, top: 0, width: W, height: H, background: "#fff", overflow: "hidden" }}>
      <canvas ref={r1} width={W} height={H} style={cv} />
      <canvas ref={r2} width={W} height={H} style={cv} />
      <canvas ref={r3} width={W} height={H} style={cv} />
      <canvas ref={r4} width={W} height={H} style={cv} />

      {/* annotation boxes */}
      <div style={{ ...boxBase, left: 72.7, top: 4, width: 187.3, height: 26, fontSize: 9.2, lineHeight: "10px", padding: "1.7px 0 0 3.6px" }}>
        <div>
          <I>μ</I><Sub>sim</Sub> = 0.511, <I>σ</I><Sub>sim</Sub> = 0.106,
        </div>
        <div style={{ paddingLeft: 1.5 }}>
          min<Sub>sim</Sub> = −&#8201;0.003, P(<I>sim</I> &gt; 0) = 1.000
        </div>
      </div>
      <div style={{ ...boxBase, left: 364, top: 4, width: 184, height: 26, fontSize: 9.2, lineHeight: "10px", padding: "1.7px 0 0 3.6px" }}>
        <div>
          <I>μ</I><Sub>sim</Sub> = 0.009, <I>σ</I><Sub>sim</Sub> = 0.186,
        </div>
        <div style={{ paddingLeft: 1.5 }}>
          min<Sub>sim</Sub> = −&#8201;0.507, P(<I>sim</I> &gt; 0) = 0.516
        </div>
      </div>
      <div style={{ ...boxBase, left: 60, top: 315, width: 122, height: 52, fontSize: 12, lineHeight: "13.7px", padding: "4.5px 0 0 2.3px" }}>
        <div>
          <I>μ</I><Sub>sim</Sub> = Δ<Sub>deg</Sub> = 0.815
        </div>
        <div>
          <I>σ</I><Sub>sim</Sub> = 0.077
        </div>
        <div>
          min<Sub>sim</Sub> = 0.537
        </div>
      </div>
      <div style={{ ...boxBase, left: 348, top: 315, width: 122, height: 52, fontSize: 12, lineHeight: "13.7px", padding: "4.5px 0 0 2.3px" }}>
        <div>
          <I>μ</I><Sub>sim</Sub> = Δ<Sub>deg</Sub> = 0.635
        </div>
        <div>
          <I>σ</I><Sub>sim</Sub> = 0.131
        </div>
        <div>
          min<Sub>sim</Sub> = 0.293
        </div>
      </div>

      {/* captions */}
      <Line x={5} cy={262} s={1.2}>(a) Original representations.</Line>
      <JLine x={290} cy={262} w={283} s={1.2} text="(b) Updated representations" />
      <Line x={290} cy={281.5} s={1.18}>
        by <InvGC />.
      </Line>
      <JLine x={5} cy={530} w={280} s={1.15} text="(c) Histogram of the similarity" />
      <Line x={5} cy={549.5} s={1.18}>between nearest neighbors.</Line>
      <JLine x={290} cy={530} w={283} s={1.18} text="(d) Histogram of the similar-" />
      <JLine x={290} cy={549.5} w={283} s={1.18} text="ity between nearest neighbors" />
      <Line x={290} cy={569} s={1.18}>
        after <InvGC />.
      </Line>
    </div>
  );
}
